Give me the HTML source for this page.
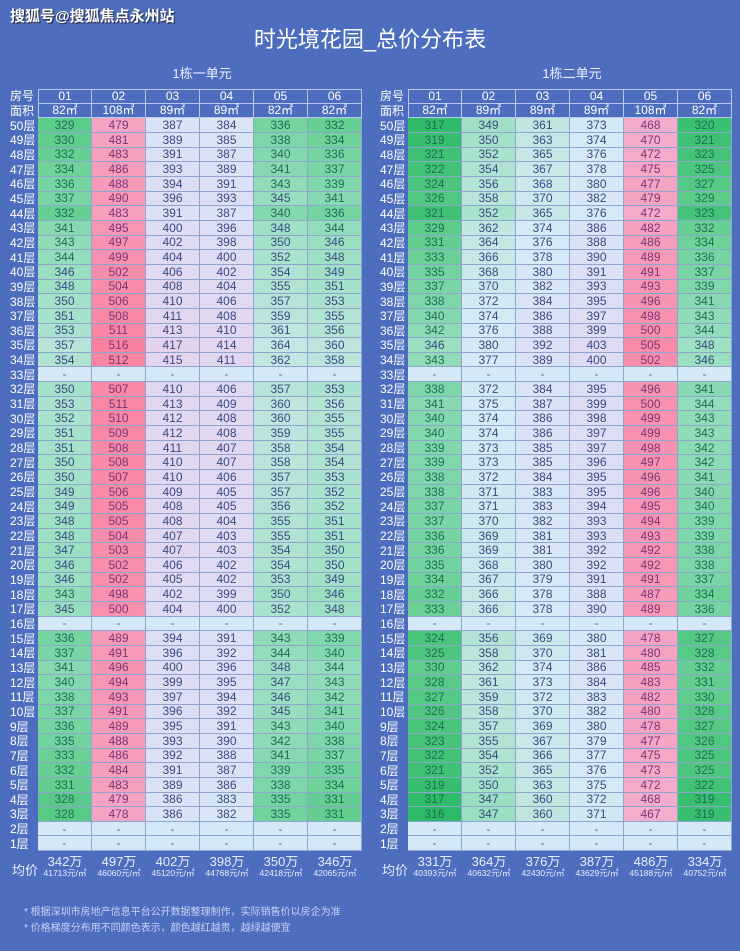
<!DOCTYPE html>
<html><head><meta charset="utf-8">
<style>
html,body{margin:0;padding:0;}
body{width:740px;height:951px;background:#4d6dbf;position:relative;overflow:hidden;font-family:"Liberation Sans","Noto Sans CJK SC",sans-serif;color:#fff;}
.wm{position:absolute;left:10px;top:5px;font-size:15px;font-weight:bold;color:#fff;text-shadow:1px 1px 1px #223;}
.title{position:absolute;left:0;width:740px;top:22px;text-align:center;font-size:22px;color:#fff;}
.sub{position:absolute;top:63px;width:354px;text-align:center;font-size:13px;color:#eef;}
.g{position:absolute;top:89px;display:grid;grid-template-columns:30px repeat(6,54px);grid-auto-rows:14.66px;font-size:12px;}
.g div{display:flex;align-items:center;justify-content:center;box-sizing:border-box;line-height:1;}
.g .f{color:#fff;justify-content:flex-start;padding-left:2px;font-size:12px;}
.g .h{border:1px solid #b8c8ee;border-top:none;border-left:none;color:#fff;}
.g .h1{border-top:1px solid #b8c8ee;}
.g .hl{border-left:1px solid #b8c8ee;}
.g .c{border-right:1px solid #8fa4cf;border-bottom:1px solid #8fa4cf;color:#3a4a82;}
.g .e{background:#d5e8f8;color:#667;}
.avg{position:absolute;top:855px;display:grid;grid-template-columns:30px repeat(6,54px);}
.avg div{text-align:center;color:#e8eeff;}
.avg .l{font-size:13px;padding-top:5px;text-align:left;padding-left:4px;}
.avg b{display:block;font-weight:normal;font-size:13px;line-height:14px;}
.avg i{display:block;font-style:normal;font-size:8.5px;line-height:9px;}
.note{position:absolute;left:24px;font-size:10px;color:#c9d5f3;}
</style></head><body>
<div class="wm">搜狐号@搜狐焦点永州站</div>
<div class="title">时光境花园_总价分布表</div>
<div class="sub" style="left:25px">1栋一单元</div>
<div class="sub" style="left:395px">1栋二单元</div>

<div class="g" id="L" style="left:8px">
<div class="f">房号</div><div class="h h1 hl">01</div><div class="h h1">02</div><div class="h h1">03</div><div class="h h1">04</div><div class="h h1">05</div><div class="h h1">06</div>
<div class="f">面积</div><div class="h hl">82㎡</div><div class="h">108㎡</div><div class="h">89㎡</div><div class="h">89㎡</div><div class="h">82㎡</div><div class="h">82㎡</div>
<div class="f">50层</div><div class="c">329</div><div class="c">479</div><div class="c">387</div><div class="c">384</div><div class="c">336</div><div class="c">332</div>
<div class="f">49层</div><div class="c">330</div><div class="c">481</div><div class="c">389</div><div class="c">385</div><div class="c">338</div><div class="c">334</div>
<div class="f">48层</div><div class="c">332</div><div class="c">483</div><div class="c">391</div><div class="c">387</div><div class="c">340</div><div class="c">336</div>
<div class="f">47层</div><div class="c">334</div><div class="c">486</div><div class="c">393</div><div class="c">389</div><div class="c">341</div><div class="c">337</div>
<div class="f">46层</div><div class="c">336</div><div class="c">488</div><div class="c">394</div><div class="c">391</div><div class="c">343</div><div class="c">339</div>
<div class="f">45层</div><div class="c">337</div><div class="c">490</div><div class="c">396</div><div class="c">393</div><div class="c">345</div><div class="c">341</div>
<div class="f">44层</div><div class="c">332</div><div class="c">483</div><div class="c">391</div><div class="c">387</div><div class="c">340</div><div class="c">336</div>
<div class="f">43层</div><div class="c">341</div><div class="c">495</div><div class="c">400</div><div class="c">396</div><div class="c">348</div><div class="c">344</div>
<div class="f">42层</div><div class="c">343</div><div class="c">497</div><div class="c">402</div><div class="c">398</div><div class="c">350</div><div class="c">346</div>
<div class="f">41层</div><div class="c">344</div><div class="c">499</div><div class="c">404</div><div class="c">400</div><div class="c">352</div><div class="c">348</div>
<div class="f">40层</div><div class="c">346</div><div class="c">502</div><div class="c">406</div><div class="c">402</div><div class="c">354</div><div class="c">349</div>
<div class="f">39层</div><div class="c">348</div><div class="c">504</div><div class="c">408</div><div class="c">404</div><div class="c">355</div><div class="c">351</div>
<div class="f">38层</div><div class="c">350</div><div class="c">506</div><div class="c">410</div><div class="c">406</div><div class="c">357</div><div class="c">353</div>
<div class="f">37层</div><div class="c">351</div><div class="c">508</div><div class="c">411</div><div class="c">408</div><div class="c">359</div><div class="c">355</div>
<div class="f">36层</div><div class="c">353</div><div class="c">511</div><div class="c">413</div><div class="c">410</div><div class="c">361</div><div class="c">356</div>
<div class="f">35层</div><div class="c">357</div><div class="c">516</div><div class="c">417</div><div class="c">414</div><div class="c">364</div><div class="c">360</div>
<div class="f">34层</div><div class="c">354</div><div class="c">512</div><div class="c">415</div><div class="c">411</div><div class="c">362</div><div class="c">358</div>
<div class="f">33层</div><div class="c">-</div><div class="c">-</div><div class="c">-</div><div class="c">-</div><div class="c">-</div><div class="c">-</div>
<div class="f">32层</div><div class="c">350</div><div class="c">507</div><div class="c">410</div><div class="c">406</div><div class="c">357</div><div class="c">353</div>
<div class="f">31层</div><div class="c">353</div><div class="c">511</div><div class="c">413</div><div class="c">409</div><div class="c">360</div><div class="c">356</div>
<div class="f">30层</div><div class="c">352</div><div class="c">510</div><div class="c">412</div><div class="c">408</div><div class="c">360</div><div class="c">355</div>
<div class="f">29层</div><div class="c">351</div><div class="c">509</div><div class="c">412</div><div class="c">408</div><div class="c">359</div><div class="c">355</div>
<div class="f">28层</div><div class="c">351</div><div class="c">508</div><div class="c">411</div><div class="c">407</div><div class="c">358</div><div class="c">354</div>
<div class="f">27层</div><div class="c">350</div><div class="c">508</div><div class="c">410</div><div class="c">407</div><div class="c">358</div><div class="c">354</div>
<div class="f">26层</div><div class="c">350</div><div class="c">507</div><div class="c">410</div><div class="c">406</div><div class="c">357</div><div class="c">353</div>
<div class="f">25层</div><div class="c">349</div><div class="c">506</div><div class="c">409</div><div class="c">405</div><div class="c">357</div><div class="c">352</div>
<div class="f">24层</div><div class="c">349</div><div class="c">505</div><div class="c">408</div><div class="c">405</div><div class="c">356</div><div class="c">352</div>
<div class="f">23层</div><div class="c">348</div><div class="c">505</div><div class="c">408</div><div class="c">404</div><div class="c">355</div><div class="c">351</div>
<div class="f">22层</div><div class="c">348</div><div class="c">504</div><div class="c">407</div><div class="c">403</div><div class="c">355</div><div class="c">351</div>
<div class="f">21层</div><div class="c">347</div><div class="c">503</div><div class="c">407</div><div class="c">403</div><div class="c">354</div><div class="c">350</div>
<div class="f">20层</div><div class="c">346</div><div class="c">502</div><div class="c">406</div><div class="c">402</div><div class="c">354</div><div class="c">350</div>
<div class="f">19层</div><div class="c">346</div><div class="c">502</div><div class="c">405</div><div class="c">402</div><div class="c">353</div><div class="c">349</div>
<div class="f">18层</div><div class="c">343</div><div class="c">498</div><div class="c">402</div><div class="c">399</div><div class="c">350</div><div class="c">346</div>
<div class="f">17层</div><div class="c">345</div><div class="c">500</div><div class="c">404</div><div class="c">400</div><div class="c">352</div><div class="c">348</div>
<div class="f">16层</div><div class="c">-</div><div class="c">-</div><div class="c">-</div><div class="c">-</div><div class="c">-</div><div class="c">-</div>
<div class="f">15层</div><div class="c">336</div><div class="c">489</div><div class="c">394</div><div class="c">391</div><div class="c">343</div><div class="c">339</div>
<div class="f">14层</div><div class="c">337</div><div class="c">491</div><div class="c">396</div><div class="c">392</div><div class="c">344</div><div class="c">340</div>
<div class="f">13层</div><div class="c">341</div><div class="c">496</div><div class="c">400</div><div class="c">396</div><div class="c">348</div><div class="c">344</div>
<div class="f">12层</div><div class="c">340</div><div class="c">494</div><div class="c">399</div><div class="c">395</div><div class="c">347</div><div class="c">343</div>
<div class="f">11层</div><div class="c">338</div><div class="c">493</div><div class="c">397</div><div class="c">394</div><div class="c">346</div><div class="c">342</div>
<div class="f">10层</div><div class="c">337</div><div class="c">491</div><div class="c">396</div><div class="c">392</div><div class="c">345</div><div class="c">341</div>
<div class="f">9层</div><div class="c">336</div><div class="c">489</div><div class="c">395</div><div class="c">391</div><div class="c">343</div><div class="c">340</div>
<div class="f">8层</div><div class="c">335</div><div class="c">488</div><div class="c">393</div><div class="c">390</div><div class="c">342</div><div class="c">338</div>
<div class="f">7层</div><div class="c">333</div><div class="c">486</div><div class="c">392</div><div class="c">388</div><div class="c">341</div><div class="c">337</div>
<div class="f">6层</div><div class="c">332</div><div class="c">484</div><div class="c">391</div><div class="c">387</div><div class="c">339</div><div class="c">335</div>
<div class="f">5层</div><div class="c">331</div><div class="c">483</div><div class="c">389</div><div class="c">386</div><div class="c">338</div><div class="c">334</div>
<div class="f">4层</div><div class="c">328</div><div class="c">479</div><div class="c">386</div><div class="c">383</div><div class="c">335</div><div class="c">331</div>
<div class="f">3层</div><div class="c">328</div><div class="c">478</div><div class="c">386</div><div class="c">382</div><div class="c">335</div><div class="c">331</div>
<div class="f">2层</div><div class="c">-</div><div class="c">-</div><div class="c">-</div><div class="c">-</div><div class="c">-</div><div class="c">-</div>
<div class="f">1层</div><div class="c">-</div><div class="c">-</div><div class="c">-</div><div class="c">-</div><div class="c">-</div><div class="c">-</div>
</div>

<div class="g" id="R" style="left:378px">
<div class="f">房号</div><div class="h h1 hl">01</div><div class="h h1">02</div><div class="h h1">03</div><div class="h h1">04</div><div class="h h1">05</div><div class="h h1">06</div>
<div class="f">面积</div><div class="h hl">82㎡</div><div class="h">89㎡</div><div class="h">89㎡</div><div class="h">89㎡</div><div class="h">108㎡</div><div class="h">82㎡</div>
<div class="f">50层</div><div class="c">317</div><div class="c">349</div><div class="c">361</div><div class="c">373</div><div class="c">468</div><div class="c">320</div>
<div class="f">49层</div><div class="c">319</div><div class="c">350</div><div class="c">363</div><div class="c">374</div><div class="c">470</div><div class="c">321</div>
<div class="f">48层</div><div class="c">321</div><div class="c">352</div><div class="c">365</div><div class="c">376</div><div class="c">472</div><div class="c">323</div>
<div class="f">47层</div><div class="c">322</div><div class="c">354</div><div class="c">367</div><div class="c">378</div><div class="c">475</div><div class="c">325</div>
<div class="f">46层</div><div class="c">324</div><div class="c">356</div><div class="c">368</div><div class="c">380</div><div class="c">477</div><div class="c">327</div>
<div class="f">45层</div><div class="c">326</div><div class="c">358</div><div class="c">370</div><div class="c">382</div><div class="c">479</div><div class="c">329</div>
<div class="f">44层</div><div class="c">321</div><div class="c">352</div><div class="c">365</div><div class="c">376</div><div class="c">472</div><div class="c">323</div>
<div class="f">43层</div><div class="c">329</div><div class="c">362</div><div class="c">374</div><div class="c">386</div><div class="c">482</div><div class="c">332</div>
<div class="f">42层</div><div class="c">331</div><div class="c">364</div><div class="c">376</div><div class="c">388</div><div class="c">486</div><div class="c">334</div>
<div class="f">41层</div><div class="c">333</div><div class="c">366</div><div class="c">378</div><div class="c">390</div><div class="c">489</div><div class="c">336</div>
<div class="f">40层</div><div class="c">335</div><div class="c">368</div><div class="c">380</div><div class="c">391</div><div class="c">491</div><div class="c">337</div>
<div class="f">39层</div><div class="c">337</div><div class="c">370</div><div class="c">382</div><div class="c">393</div><div class="c">493</div><div class="c">339</div>
<div class="f">38层</div><div class="c">338</div><div class="c">372</div><div class="c">384</div><div class="c">395</div><div class="c">496</div><div class="c">341</div>
<div class="f">37层</div><div class="c">340</div><div class="c">374</div><div class="c">386</div><div class="c">397</div><div class="c">498</div><div class="c">343</div>
<div class="f">36层</div><div class="c">342</div><div class="c">376</div><div class="c">388</div><div class="c">399</div><div class="c">500</div><div class="c">344</div>
<div class="f">35层</div><div class="c">346</div><div class="c">380</div><div class="c">392</div><div class="c">403</div><div class="c">505</div><div class="c">348</div>
<div class="f">34层</div><div class="c">343</div><div class="c">377</div><div class="c">389</div><div class="c">400</div><div class="c">502</div><div class="c">346</div>
<div class="f">33层</div><div class="c">-</div><div class="c">-</div><div class="c">-</div><div class="c">-</div><div class="c">-</div><div class="c">-</div>
<div class="f">32层</div><div class="c">338</div><div class="c">372</div><div class="c">384</div><div class="c">395</div><div class="c">496</div><div class="c">341</div>
<div class="f">31层</div><div class="c">341</div><div class="c">375</div><div class="c">387</div><div class="c">399</div><div class="c">500</div><div class="c">344</div>
<div class="f">30层</div><div class="c">340</div><div class="c">374</div><div class="c">386</div><div class="c">398</div><div class="c">499</div><div class="c">343</div>
<div class="f">29层</div><div class="c">340</div><div class="c">374</div><div class="c">386</div><div class="c">397</div><div class="c">499</div><div class="c">343</div>
<div class="f">28层</div><div class="c">339</div><div class="c">373</div><div class="c">385</div><div class="c">397</div><div class="c">498</div><div class="c">342</div>
<div class="f">27层</div><div class="c">339</div><div class="c">373</div><div class="c">385</div><div class="c">396</div><div class="c">497</div><div class="c">342</div>
<div class="f">26层</div><div class="c">338</div><div class="c">372</div><div class="c">384</div><div class="c">395</div><div class="c">496</div><div class="c">341</div>
<div class="f">25层</div><div class="c">338</div><div class="c">371</div><div class="c">383</div><div class="c">395</div><div class="c">496</div><div class="c">340</div>
<div class="f">24层</div><div class="c">337</div><div class="c">371</div><div class="c">383</div><div class="c">394</div><div class="c">495</div><div class="c">340</div>
<div class="f">23层</div><div class="c">337</div><div class="c">370</div><div class="c">382</div><div class="c">393</div><div class="c">494</div><div class="c">339</div>
<div class="f">22层</div><div class="c">336</div><div class="c">369</div><div class="c">381</div><div class="c">393</div><div class="c">493</div><div class="c">339</div>
<div class="f">21层</div><div class="c">336</div><div class="c">369</div><div class="c">381</div><div class="c">392</div><div class="c">492</div><div class="c">338</div>
<div class="f">20层</div><div class="c">335</div><div class="c">368</div><div class="c">380</div><div class="c">392</div><div class="c">492</div><div class="c">338</div>
<div class="f">19层</div><div class="c">334</div><div class="c">367</div><div class="c">379</div><div class="c">391</div><div class="c">491</div><div class="c">337</div>
<div class="f">18层</div><div class="c">332</div><div class="c">366</div><div class="c">378</div><div class="c">388</div><div class="c">487</div><div class="c">334</div>
<div class="f">17层</div><div class="c">333</div><div class="c">366</div><div class="c">378</div><div class="c">390</div><div class="c">489</div><div class="c">336</div>
<div class="f">16层</div><div class="c">-</div><div class="c">-</div><div class="c">-</div><div class="c">-</div><div class="c">-</div><div class="c">-</div>
<div class="f">15层</div><div class="c">324</div><div class="c">356</div><div class="c">369</div><div class="c">380</div><div class="c">478</div><div class="c">327</div>
<div class="f">14层</div><div class="c">325</div><div class="c">358</div><div class="c">370</div><div class="c">381</div><div class="c">480</div><div class="c">328</div>
<div class="f">13层</div><div class="c">330</div><div class="c">362</div><div class="c">374</div><div class="c">386</div><div class="c">485</div><div class="c">332</div>
<div class="f">12层</div><div class="c">328</div><div class="c">361</div><div class="c">373</div><div class="c">384</div><div class="c">483</div><div class="c">331</div>
<div class="f">11层</div><div class="c">327</div><div class="c">359</div><div class="c">372</div><div class="c">383</div><div class="c">482</div><div class="c">330</div>
<div class="f">10层</div><div class="c">326</div><div class="c">358</div><div class="c">370</div><div class="c">382</div><div class="c">480</div><div class="c">328</div>
<div class="f">9层</div><div class="c">324</div><div class="c">357</div><div class="c">369</div><div class="c">380</div><div class="c">478</div><div class="c">327</div>
<div class="f">8层</div><div class="c">323</div><div class="c">355</div><div class="c">367</div><div class="c">379</div><div class="c">477</div><div class="c">326</div>
<div class="f">7层</div><div class="c">322</div><div class="c">354</div><div class="c">366</div><div class="c">377</div><div class="c">475</div><div class="c">325</div>
<div class="f">6层</div><div class="c">321</div><div class="c">352</div><div class="c">365</div><div class="c">376</div><div class="c">473</div><div class="c">325</div>
<div class="f">5层</div><div class="c">319</div><div class="c">350</div><div class="c">363</div><div class="c">375</div><div class="c">472</div><div class="c">322</div>
<div class="f">4层</div><div class="c">317</div><div class="c">347</div><div class="c">360</div><div class="c">372</div><div class="c">468</div><div class="c">319</div>
<div class="f">3层</div><div class="c">316</div><div class="c">347</div><div class="c">360</div><div class="c">371</div><div class="c">467</div><div class="c">319</div>
<div class="f">2层</div><div class="c">-</div><div class="c">-</div><div class="c">-</div><div class="c">-</div><div class="c">-</div><div class="c">-</div>
<div class="f">1层</div><div class="c">-</div><div class="c">-</div><div class="c">-</div><div class="c">-</div><div class="c">-</div><div class="c">-</div>
</div>

<div class="avg" style="left:8px">
<div class="l">均价</div>
<div><b>342万</b><i>41713元/㎡</i></div>
<div><b>497万</b><i>46060元/㎡</i></div>
<div><b>402万</b><i>45120元/㎡</i></div>
<div><b>398万</b><i>44768元/㎡</i></div>
<div><b>350万</b><i>42418元/㎡</i></div>
<div><b>346万</b><i>42065元/㎡</i></div>
</div>
<div class="avg" style="left:378px">
<div class="l">均价</div>
<div><b>331万</b><i>40393元/㎡</i></div>
<div><b>364万</b><i>40632元/㎡</i></div>
<div><b>376万</b><i>42430元/㎡</i></div>
<div><b>387万</b><i>43629元/㎡</i></div>
<div><b>486万</b><i>45188元/㎡</i></div>
<div><b>334万</b><i>40752元/㎡</i></div>
</div>

<div class="note" style="top:903px">* 根据深圳市房地产信息平台公开数据整理制作，实际销售价以房企为准</div>
<div class="note" style="top:919px">* 价格梯度分布用不同颜色表示，颜色越红越贵，越绿越便宜</div>

<script>
var stops=[[315,[40,185,100]],[330,[95,205,140]],[345,[150,222,190]],[360,[190,230,222]],[375,[214,234,246]],[395,[220,222,244]],[415,[228,212,238]],[470,[244,172,202]],[515,[250,130,160]]];
function col(v){
 if(v<=stops[0][0])return stops[0][1];
 for(var i=1;i<stops.length;i++){if(v<=stops[i][0]){var a=stops[i-1],b=stops[i],t=(v-a[0])/(b[0]-a[0]);return [0,1,2].map(function(k){return Math.round(a[1][k]+(b[1][k]-a[1][k])*t);});}}
 return stops[stops.length-1][1];
}
document.querySelectorAll('.g .c').forEach(function(d){
 var v=parseInt(d.textContent,10);
 if(isNaN(v)){d.classList.add('e');return;}
 var c=col(v);d.style.background='rgb('+c.join(',')+')';
 d.style.color=v<345?'#1e6e55':(v>=460?'#7a3576':'#3a4a82');
});
</script>
</body></html>
